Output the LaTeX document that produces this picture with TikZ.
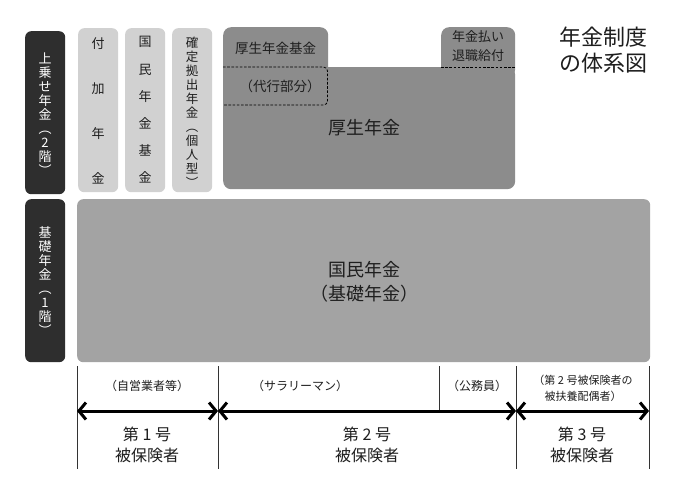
\documentclass[tikz,border=0pt]{standalone}
\usepackage{fontspec}
\setmainfont{Noto Sans CJK JP}
\usetikzlibrary{arrows.meta}
\definecolor{pillarc}{HTML}{2E2E2E}
\definecolor{litec}{HTML}{D1D1D1}
\definecolor{kosec}{HTML}{8C8C8C}
\definecolor{kisoc}{HTML}{A3A3A3}
\definecolor{inkc}{HTML}{1E1E1E}
\definecolor{linec}{HTML}{333333}
\begin{document}
\begin{tikzpicture}[x=1pt,y=-1pt,
  blk/.style={rounded corners=6pt, inner sep=0pt, anchor=north west, draw=none},
  pil/.style={blk, fill=pillarc},
  lite/.style={blk, fill=litec},
  kose/.style={blk, fill=kosec},
  kiso/.style={blk, fill=kisoc},
  txt/.style={inner sep=0pt, align=center, text=inkc},
  vt/.style={txt},
  dsh/.style={draw=black, dashed, line width=0.8pt, dash pattern=on 2.6pt off 1.6pt},
  vline/.style={draw=linec, line width=0.9pt},
  arr/.style={line width=3pt, {Straight Barb[length=7pt,width=17pt]}-{Straight Barb[length=7pt,width=17pt]}}
]
\useasboundingbox (0,0) rectangle (680,488);
\fill[white] (0,0) rectangle (680,488);

% pillars
\node[pil, minimum width=40pt, minimum height=163pt] (p2) at (25,31) {};
\node[pil, minimum width=40pt, minimum height=163pt] (p1) at (25,199) {};
\node[vt, text=white, font=\fontsize{13}{14}\selectfont] (p2t) at (45,114) {上\\乗\\せ\\年\\金\\︵\\2\\階\\︶};
\node[vt, text=white, font=\fontsize{13}{14}\selectfont] (p1t) at (45,281) {基\\礎\\年\\金\\︵\\1\\階\\︶};

% light boxes
\node[lite, minimum width=40pt, minimum height=164pt] (fuka) at (78,28) {};
\node[lite, minimum width=40pt, minimum height=164pt] (kikin) at (125,28) {};
\node[lite, minimum width=40pt, minimum height=164pt] (kakutei) at (172,28) {};
\node[vt, font=\fontsize{13}{45}\selectfont] (fukat) at (98,110.5) {付\\加\\年\\金};
\node[vt, font=\fontsize{13}{27.2}\selectfont] (kikint) at (145,110) {国\\民\\年\\金\\基\\金};
\node[vt, font=\fontsize{12.5}{14}\selectfont] (kakuteit) at (192,112) {確\\定\\拠\\出\\年\\金\\︵\\個\\人\\型\\︶};

% kosei nenkin
\node[kose, minimum width=292pt, minimum height=122pt, rounded corners=8pt] (kosei) at (223,67) {};
\node[kose, minimum width=105pt, minimum height=60pt, rounded corners=8pt] (kikintab) at (223,27) {};
\node[kose, minimum width=74pt, minimum height=50pt, rounded corners=8pt] (taishoku) at (441,27) {};
\draw[dsh, rounded corners=4pt] (223,67) -- (327.5,67) -- (327.5,105) -- (223,105);
\draw[dsh] (441,67) -- (515,67);
\node[txt, font=\fontsize{13.5}{16}\selectfont] (kikinlab) at (275.5,48) {厚生年金基金};
\node[txt, font=\fontsize{13.5}{16}\selectfont] (daikou) at (280,86) {（代行部分）};
\node[txt, font=\fontsize{13}{19}\selectfont] (taishokut) at (478,46.5) {年金払い\\退職給付};
\node[txt, font=\fontsize{18}{22}\selectfont] (koseit) at (364,128) {厚生年金};

% title
\node[txt, font=\fontsize{22}{26}\selectfont] (title) at (603,50) {年金制度\\の体系図};

% kokumin nenkin
\node[kiso, minimum width=573pt, minimum height=163pt] (kokumin) at (77,199) {};
\node[txt, font=\fontsize{18}{24}\selectfont] (kokumint) at (364,282) {国民年金\\（基礎年金）};

% bottom scale
\coordinate (v1t) at (77,366);  \coordinate (v1b) at (77,469);
\coordinate (v2t) at (218,366); \coordinate (v2b) at (218,469);
\coordinate (v3t) at (516,366); \coordinate (v3b) at (516,469);
\coordinate (v4t) at (649,366); \coordinate (v4b) at (649,469);
\coordinate (s1t) at (439,366); \coordinate (s1b) at (439,411);
\draw[vline] (v1t) -- (v1b);
\draw[vline] (v2t) -- (v2b);
\draw[vline] (v3t) -- (v3b);
\draw[vline] (v4t) -- (v4b);
\draw[vline] (s1t) -- (s1b);
\coordinate (a1) at (77,411);
\coordinate (a2) at (218,411);
\coordinate (a3) at (516,411);
\coordinate (a4) at (649,411);
\draw[arr] (a1) -- (a2);
\draw[arr] (a2) -- (a3);
\draw[arr] (a3) -- (a4);

\node[txt, font=\fontsize{12}{14}\selectfont] (jiei) at (147,386) {（自営業者等）};
\node[txt, font=\fontsize{12}{14}\selectfont] (salary) at (300,386) {（サラリーマン）};
\node[txt, font=\fontsize{12}{14}\selectfont] (koumuin) at (477,386) {（公務員）};
\node[txt, font=\fontsize{11}{16}\selectfont] (fuyou) at (583,388.5) {（第 2 号被保険者の\\被扶養配偶者）};
\node[txt, font=\fontsize{16}{21}\selectfont] (g1) at (147,444.5) {第 1 号\\被保険者};
\node[txt, font=\fontsize{16}{21}\selectfont] (g2) at (367,444.5) {第 2 号\\被保険者};
\node[txt, font=\fontsize{16}{21}\selectfont] (g3) at (582,444.5) {第 3 号\\被保険者};
\end{tikzpicture}
\end{document}
